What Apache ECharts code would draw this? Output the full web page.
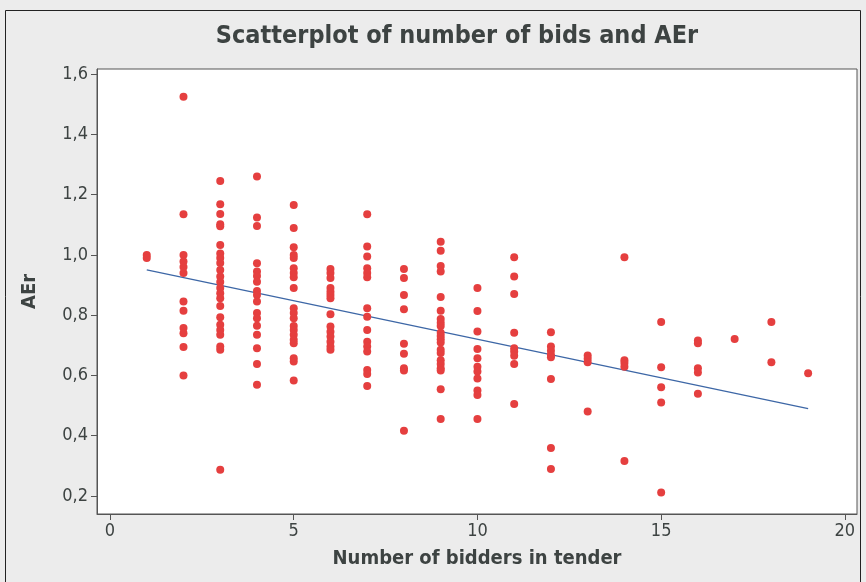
<!DOCTYPE html>
<html>
<head>
<meta charset="utf-8">
<script src="https://cdn.jsdelivr.net/npm/echarts@6/dist/echarts.min.js"></script>
<style>
html,body{margin:0;padding:0;background:#ececec;}
#c{width:866px;height:582px;}
</style>
</head>
<body>
<div id="c"></div>
<script>
const title = "Scatterplot of number of bids and AEr";
const xName = "Number of bidders in tender";
const yName = "AEr";
const xTicks = [0, 5, 10, 15, 20];
const yTicks = [0.2, 0.4, 0.6, 0.8, 1.0, 1.2, 1.4, 1.6];

const aer1 = [1.0, 0.99];
const aer2 = [1.525, 1.135, 1.0, 0.978, 0.96, 0.94, 0.845, 0.815, 0.757, 0.74, 0.694, 0.6];
const aer3 = [1.245, 1.168, 1.136, 1.102, 1.095, 1.033, 1.005, 0.99, 0.973, 0.95, 0.928, 0.91, 0.89, 0.873, 0.856, 0.83, 0.793, 0.768, 0.751, 0.735, 0.696, 0.685, 0.287];
const aer4 = [1.26, 1.124, 1.096, 0.972, 0.945, 0.93, 0.911, 0.88, 0.867, 0.845, 0.807, 0.79, 0.765, 0.735, 0.69, 0.638, 0.569];
const aer5 = [1.166, 1.089, 1.025, 1.0, 0.99, 0.956, 0.94, 0.926, 0.89, 0.823, 0.807, 0.79, 0.764, 0.751, 0.735, 0.718, 0.707, 0.657, 0.646, 0.583];
const aer6 = [0.953, 0.94, 0.923, 0.89, 0.878, 0.867, 0.856, 0.803, 0.762, 0.745, 0.729, 0.712, 0.696, 0.685];
const aer7 = [1.135, 1.028, 0.995, 0.956, 0.94, 0.926, 0.823, 0.795, 0.751, 0.712, 0.696, 0.679, 0.618, 0.605, 0.565];
const aer8 = [0.953, 0.923, 0.867, 0.82, 0.705, 0.672, 0.624, 0.616, 0.416];
const aer9 = [1.044, 1.014, 0.963, 0.945, 0.86, 0.815, 0.787, 0.775, 0.764, 0.742, 0.731, 0.72, 0.709, 0.685, 0.674, 0.65, 0.638, 0.624, 0.616, 0.554, 0.455];
const aer10 = [0.89, 0.814, 0.746, 0.688, 0.657, 0.629, 0.613, 0.59, 0.55, 0.535, 0.455];
const aer11 = [0.992, 0.928, 0.87, 0.742, 0.69, 0.679, 0.665, 0.638, 0.505];
const aer12 = [0.743, 0.696, 0.682, 0.668, 0.66, 0.588, 0.359, 0.289];
const aer13 = [0.666, 0.655, 0.644, 0.48];
const aer14 = [0.992, 0.65, 0.641, 0.629, 0.316];
const aer15 = [0.777, 0.627, 0.561, 0.51, 0.211];
const aer16 = [0.716, 0.707, 0.624, 0.61, 0.539];
const aer17 = [0.721];
const aer18 = [0.777, 0.644];
const aer19 = [0.607];
const bidderCounts = [1,2,3,4,5,6,7,8,9,10,11,12,13,14,15,16,17,18,19];
const aerColumns = [aer1,aer2,aer3,aer4,aer5,aer6,aer7,aer8,aer9,aer10,aer11,aer12,aer13,aer14,aer15,aer16,aer17,aer18,aer19];

const fitX = [1, 19];
const fitY = [0.95, 0.49];

const points = [];
bidderCounts.forEach((b, i) => aerColumns[i].forEach(v => points.push([b, v])));

const font = "'DejaVu Sans Condensed', 'DejaVu Sans', sans-serif";
const chart = echarts.init(document.getElementById('c'), null, {renderer: 'canvas'});
chart.setOption({
  backgroundColor: '#ececec',
  animation: false,
  graphic: [
    {type: 'rect', z: -10, shape: {x: 5.5, y: 10.5, width: 855, height: 580}, style: {fill: 'none', stroke: '#222', lineWidth: 1}}
  ],
  title: {
    text: title, left: 452, top: 19, textAlign: 'center',
    textStyle: {fontFamily: font, fontWeight: 'bold', fontSize: 25, color: '#3d4342'}
  },
  grid: {left: 97, top: 69, width: 760, height: 445, show: true, backgroundColor: '#ffffff', borderColor: '#555', borderWidth: 1},
  xAxis: {
    type: 'value', min: -0.354, max: 20.33,
    name: xName, nameLocation: 'middle', nameGap: 35,
    nameTextStyle: {fontFamily: font, fontWeight: 'bold', fontSize: 20, color: '#3d4342'},
    axisLine: {show: true, onZero: false, lineStyle: {color: '#555'}},
    splitLine: {show: false},
    axisTick: {show: true, inside: false, customValues: xTicks, length: 6, lineStyle: {color: '#555'}},
    axisLabel: {customValues: xTicks, fontFamily: font, fontSize: 18, color: '#3d4342', margin: 8}
  },
  yAxis: {
    type: 'value', min: 0.14, max: 1.617,
    name: yName, nameLocation: 'middle', nameGap: 57, nameRotate: 90,
    nameTextStyle: {fontFamily: font, fontWeight: 'bold', fontSize: 20, color: '#3d4342'},
    axisLine: {show: true, onZero: false, lineStyle: {color: '#555'}},
    splitLine: {show: false},
    axisTick: {show: true, inside: false, customValues: yTicks, length: 6, lineStyle: {color: '#555'}},
    axisLabel: {customValues: yTicks, fontFamily: font, fontSize: 18, color: '#3d4342', margin: 9,
      formatter: v => v.toFixed(1).replace('.', ',')}
  },
  series: [
    {type: 'scatter', data: points, symbol: 'circle', symbolSize: 8,
     itemStyle: {color: '#e53f3f', opacity: 1}, z: 3},
    {type: 'line', data: fitX.map((x, i) => [x, fitY[i]]), symbol: 'none',
     lineStyle: {color: '#3d67a6', width: 1.3}, z: 2}
  ]
});
</script>
</body>
</html>
